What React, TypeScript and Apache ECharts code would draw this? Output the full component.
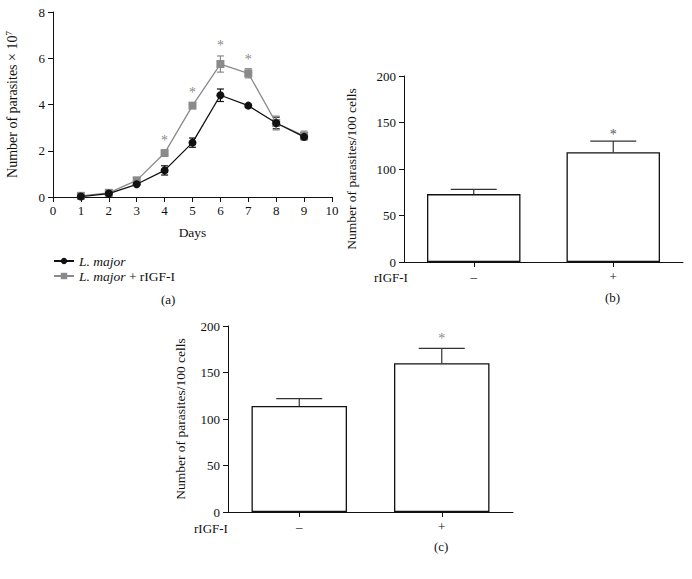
import React, { useEffect, useRef } from "react";
import * as echarts from "echarts";

// Panel (a)
const days = [1, 2, 3, 4, 5, 6, 7, 8, 9];
const lMajor = [0.02, 0.15, 0.55, 1.15, 2.35, 4.4, 3.95, 3.2, 2.6];
const lMajorErr = [0.03, 0.04, 0.05, 0.2, 0.2, 0.27, 0.05, 0.25, 0.1];
const lMajorIgf = [0.05, 0.18, 0.72, 1.9, 3.95, 5.75, 5.35, 3.2, 2.65];
const lMajorIgfErr = [0.04, 0.05, 0.08, 0.1, 0.08, 0.35, 0.2, 0.3, 0.2];
const sigDays = [4, 5, 6, 7];
const sigLevels = [2.45, 4.5, 6.55, 5.95];

// Panels (b) and (c)
const barCats = ["–", "+"];
const barsB = [73, 118];
const barsBHigh = [78, 130];
const sigB = [137];
const barsC = [114, 160];
const barsCHigh = [122, 176];
const sigC = [187];

const FONT = "'Liberation Serif', 'DejaVu Serif', serif";
const BLACK = "#111";
const GRAY = "#8a8a8a";

function errRender(color: string, cap: number, both: boolean) {
  return (params: any, api: any) => {
    const x = api.value(0);
    const lo = api.value(1);
    const hi = api.value(2);
    const p1 = api.coord([x, lo]);
    const p2 = api.coord([x, hi]);
    const st = { stroke: color, lineWidth: 1.2 };
    const children: any[] = [
      { type: "line", shape: { x1: p1[0], y1: p1[1], x2: p2[0], y2: p2[1] }, style: st },
      { type: "line", shape: { x1: p2[0] - cap, y1: p2[1], x2: p2[0] + cap, y2: p2[1] }, style: st },
    ];
    if (both) {
      children.push({ type: "line", shape: { x1: p1[0] - cap, y1: p1[1], x2: p1[0] + cap, y2: p1[1] }, style: st });
    }
    return { type: "group", children };
  };
}

function starRender(color: string, size: number) {
  return (params: any, api: any) => {
    const p = api.coord([api.value(0), api.value(1)]);
    return {
      type: "text",
      x: p[0],
      y: p[1],
      style: { text: "*", fill: color, font: `${size}px ${FONT}`, align: "center", verticalAlign: "middle" },
    };
  };
}

export default function App() {
  const ref = useRef<HTMLDivElement>(null);
  useEffect(() => {
    if (!ref.current) return;
    const chart = echarts.init(ref.current, null, { renderer: "svg" });
    const axisLine = { show: true, lineStyle: { color: BLACK, width: 1 } };
    const axisTick = { show: true, length: 5, lineStyle: { color: BLACK, width: 1 } };
    const axisLabel = { color: BLACK, fontFamily: FONT, fontSize: 13 };
    const nameStyle = { color: BLACK, fontFamily: FONT, fontSize: 13.5 };

    const option: any = {
      animation: false,
      backgroundColor: "#fff",
      textStyle: { fontFamily: FONT },
      grid: [
        { left: 53, top: 12, width: 279, height: 185, outerBoundsMode: "none" },
        { left: 404, top: 76, width: 279, height: 186, outerBoundsMode: "none" },
        { left: 228, top: 326, width: 285, height: 186, outerBoundsMode: "none" },
      ],
      xAxis: [
        {
          gridIndex: 0, type: "value", min: 0, max: 10, interval: 1,
          axisLine, axisTick, axisLabel: { ...axisLabel, margin: 7 }, splitLine: { show: false },
          name: "Days", nameLocation: "middle", nameGap: 28, nameTextStyle: nameStyle,
        },
        {
          gridIndex: 1, type: "category", data: barCats,
          axisLine, axisTick: { ...axisTick, alignWithLabel: true }, axisLabel: { ...axisLabel, margin: 8 },
        },
        {
          gridIndex: 2, type: "category", data: barCats,
          axisLine, axisTick: { ...axisTick, alignWithLabel: true }, axisLabel: { ...axisLabel, margin: 8 },
        },
      ],
      yAxis: [
        {
          gridIndex: 0, type: "value", min: 0, max: 8, interval: 2,
          axisLine, axisTick, axisLabel: { ...axisLabel, margin: 8 }, splitLine: { show: false },
          name: "Number of parasites × 10{sup|7}", nameLocation: "middle", nameGap: 32,
          nameTextStyle: { ...nameStyle, fontSize: 14, rich: { sup: { fontSize: 9, verticalAlign: "top", padding: [0, 0, 8, 0], color: BLACK, fontFamily: FONT } } },
        },
        {
          gridIndex: 1, type: "value", min: 0, max: 200, interval: 50,
          axisLine, axisTick, axisLabel: { ...axisLabel, margin: 8 }, splitLine: { show: false },
          name: "Number of parasites/100 cells", nameLocation: "middle", nameGap: 46, nameTextStyle: nameStyle,
        },
        {
          gridIndex: 2, type: "value", min: 0, max: 200, interval: 50,
          axisLine, axisTick, axisLabel: { ...axisLabel, margin: 8 }, splitLine: { show: false },
          name: "Number of parasites/100 cells", nameLocation: "middle", nameGap: 41, nameTextStyle: nameStyle,
        },
      ],
      legend: {
        orient: "vertical", left: 48, top: 249, itemWidth: 20, itemHeight: 8, itemGap: 1,
        data: ["L. major", "L. major + rIGF-I"],
        formatter: (n: string) => (n === "L. major" ? "{i|L. major}" : "{i|L. major} + rIGF-I"),
        textStyle: {
          color: BLACK, fontFamily: FONT, fontSize: 13.5, lineHeight: 14,
          rich: { i: { fontStyle: "italic", fontFamily: FONT, fontSize: 13.5, lineHeight: 14, color: BLACK } },
        },
      },
      series: [
        {
          type: "custom", name: "errA1", xAxisIndex: 0, yAxisIndex: 0, z: 1,
          renderItem: errRender(BLACK, 3.5, true), encode: { x: 0, y: [1, 2] },
          data: days.map((d, i) => [d, lMajor[i] - lMajorErr[i], lMajor[i] + lMajorErr[i]]),
        },
        {
          type: "custom", name: "errA2", xAxisIndex: 0, yAxisIndex: 0, z: 1,
          renderItem: errRender(GRAY, 3.5, true), encode: { x: 0, y: [1, 2] },
          data: days.map((d, i) => [d, lMajorIgf[i] - lMajorIgfErr[i], lMajorIgf[i] + lMajorIgfErr[i]]),
        },
        {
          type: "line", name: "L. major + rIGF-I", xAxisIndex: 0, yAxisIndex: 0, z: 3,
          data: days.map((d, i) => [d, lMajorIgf[i]]),
          symbol: "rect", symbolSize: 8, color: GRAY,
          lineStyle: { color: GRAY, width: 1.3 }, itemStyle: { color: GRAY },
        },
        {
          type: "line", name: "L. major", xAxisIndex: 0, yAxisIndex: 0, z: 4,
          data: days.map((d, i) => [d, lMajor[i]]),
          symbol: "circle", symbolSize: 8, color: BLACK,
          lineStyle: { color: BLACK, width: 1.3 }, itemStyle: { color: BLACK },
        },
        {
          type: "custom", name: "sigA", xAxisIndex: 0, yAxisIndex: 0, z: 5,
          renderItem: starRender(GRAY, 14), data: sigDays.map((d, i) => [d, sigLevels[i]]),
        },
        {
          type: "custom", name: "errB", xAxisIndex: 1, yAxisIndex: 1, z: 1,
          renderItem: errRender("#333", 23, false), encode: { x: 0, y: [1, 2] },
          data: barCats.map((_, i) => [i, barsB[i], barsBHigh[i]]),
        },
        {
          type: "bar", name: "barB", xAxisIndex: 1, yAxisIndex: 1, z: 2, barWidth: "67%",
          data: barsB, itemStyle: { color: "#fff", borderColor: BLACK, borderWidth: 1.3 },
        },
        {
          type: "custom", name: "sigB", xAxisIndex: 1, yAxisIndex: 1, z: 5,
          renderItem: starRender("#555", 14), data: sigB.map((v) => [1, v]),
        },
        {
          type: "custom", name: "errC", xAxisIndex: 2, yAxisIndex: 2, z: 1,
          renderItem: errRender("#333", 23, false), encode: { x: 0, y: [1, 2] },
          data: barCats.map((_, i) => [i, barsC[i], barsCHigh[i]]),
        },
        {
          type: "bar", name: "barC", xAxisIndex: 2, yAxisIndex: 2, z: 2, barWidth: "67%",
          data: barsC, itemStyle: { color: "#fff", borderColor: BLACK, borderWidth: 1.3 },
        },
        {
          type: "custom", name: "sigC", xAxisIndex: 2, yAxisIndex: 2, z: 5,
          renderItem: starRender(GRAY, 14), data: sigC.map((v) => [1, v]),
        },
      ],
      graphic: [
        { type: "text", left: 374, top: 271, style: { text: "rIGF-I", font: `13px ${FONT}`, fill: BLACK } },
        { type: "text", left: 194, top: 522, style: { text: "rIGF-I", font: `13px ${FONT}`, fill: BLACK } },
        { type: "text", left: 161, top: 293, style: { text: "(a)", font: `13px ${FONT}`, fill: BLACK } },
        { type: "text", left: 605, top: 291, style: { text: "(b)", font: `13px ${FONT}`, fill: BLACK } },
        { type: "text", left: 434, top: 540, style: { text: "(c)", font: `13px ${FONT}`, fill: BLACK } },
      ],
    };
    chart.setOption(option);
    return () => chart.dispose();
  }, []);
  return <div ref={ref} style={{ position: "fixed", left: 0, top: 0, width: 692, height: 579, background: "#fff" }} />;
}
